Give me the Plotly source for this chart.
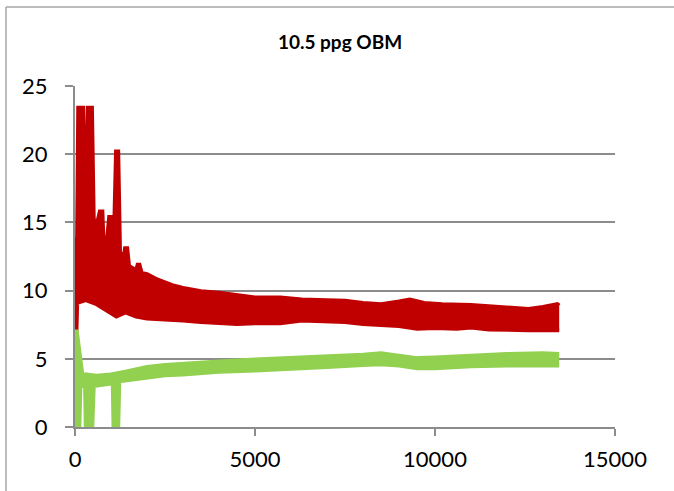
import plotly.graph_objects as go

# ---- data ----
red_upper_x = [0, 20, 60, 90, 230, 265, 325, 360, 470, 520, 620, 690, 760, 800, 900, 950, 1030, 1080,
               1140, 1200, 1250, 1360, 1390, 1450, 1500, 1700, 1740, 1790, 1850, 2000, 2300, 2700, 3000,
               3500, 4000, 4500, 5000, 5700, 6300, 7000, 7500, 8000, 8500, 9000, 9300, 9700, 10200, 11000,
               11500, 12000, 12600, 13000, 13400, 13450]
red_upper_y = [7.0, 12.0, 14.0, 23.4, 23.4, 18.5, 18.5, 23.4, 23.4, 15.2, 15.0, 15.8, 15.8, 13.0, 14.0, 15.4, 15.4, 13.5,
               20.2, 20.2, 12.8, 12.5, 13.1, 13.1, 11.8, 11.5, 11.9, 11.9, 11.3, 11.2, 10.8, 10.4, 10.2,
               9.95, 9.85, 9.65, 9.5, 9.5, 9.35, 9.3, 9.25, 9.1, 9.0, 9.2, 9.35, 9.1, 9.0, 8.95,
               8.85, 8.8, 8.65, 8.8, 9.0, 8.9]

red_lower_x = [0, 40, 60, 300, 600, 900, 1150, 1400, 1700, 2000, 2500, 3000, 3500, 4000, 4500, 5000, 5700,
               6300, 7000, 7500, 8000, 8500, 9000, 9500, 10000, 10600, 11000, 11500, 12000, 12600, 13000, 13450]
red_lower_y = [7.0, 7.0, 9.1, 9.3, 9.0, 8.5, 8.1, 8.4, 8.1, 7.95, 7.9, 7.8, 7.7, 7.65, 7.55, 7.6, 7.6,
               7.8, 7.7, 7.7, 7.55, 7.45, 7.4, 7.2, 7.25, 7.2, 7.3, 7.15, 7.1, 7.1, 7.1, 7.1]

green_upper_x = [0, 50, 220, 300, 600, 1000, 1400, 1700, 2000, 2500, 3000, 3500, 4000, 5000, 6000, 7000,
                 8000, 8500, 9000, 9500, 10000, 11000, 12000, 13000, 13450]
green_upper_y = [7.0, 7.0, 3.5, 3.85, 3.75, 3.85, 4.05, 4.25, 4.4, 4.55, 4.65, 4.75, 4.8, 4.95, 5.05, 5.15,
                 5.3, 5.4, 5.25, 5.05, 5.1, 5.25, 5.35, 5.4, 5.35]

green_lower_x = [0, 120, 150, 280, 300, 480, 520, 800, 1050, 1070, 1200, 1230, 1500, 2000, 2500, 3000, 4000,
                 5000, 6000, 7000, 8000, 8500, 9000, 9500, 10000, 11000, 12000, 13000, 13450]
green_lower_y = [0.0, 0.0, 3.0, 3.0, 0.0, 0.0, 3.0, 3.1, 3.2, 0.0, 0.0, 3.35, 3.45, 3.65, 3.8, 3.85, 4.05,
                 4.15, 4.25, 4.4, 4.55, 4.6, 4.5, 4.3, 4.3, 4.45, 4.5, 4.5, 4.5]

x_ticks = [0, 5000, 10000, 15000]
y_ticks = [0, 5, 10, 15, 20, 25]
title_text = "10.5 ppg OBM"

RED = "#C00000"
GREEN = "#92D050"
GRID = "#8C8C8C"
FONT = "Lato"

W, H = 674, 491

fig = go.Figure()
for lx, ly, ux, uy, col in [(red_lower_x, red_lower_y, red_upper_x, red_upper_y, RED),
                            (green_lower_x, green_lower_y, green_upper_x, green_upper_y, GREEN)]:
    fig.add_trace(go.Scatter(x=lx, y=ly, mode="lines",
                             line=dict(color=col, width=4), showlegend=False, hoverinfo="skip"))
    fig.add_trace(go.Scatter(x=ux, y=uy, mode="lines", fill="tonexty", fillcolor=col,
                             line=dict(color=col, width=4), showlegend=False, hoverinfo="skip"))

fig.update_layout(
    width=W, height=H,
    margin=dict(l=75, r=59, t=86, b=64, autoexpand=False),
    paper_bgcolor="white", plot_bgcolor="white",
    font=dict(family=FONT, color="black"),
    title=dict(text="<b>" + title_text + "</b>", x=340 / W, xanchor="center",
               y=1 - 42 / H, yanchor="middle", font=dict(family=FONT, size=19, color="black")),
    xaxis=dict(range=[0, 15000], tickvals=x_ticks, ticktext=[str(v) for v in x_ticks],
               showgrid=False, zeroline=False, showline=True, linecolor=GRID, linewidth=2,
               ticks="outside", ticklen=7, tickwidth=2, tickcolor=GRID, automargin=False,
               tickfont=dict(family=FONT, size=22, color="black"), ticklabelstandoff=5),
    yaxis=dict(range=[0, 25], tickvals=y_ticks, ticktext=[str(v) for v in y_ticks],
               showgrid=True, gridcolor=GRID, gridwidth=2, zeroline=False,
               showline=True, linecolor=GRID, linewidth=2, automargin=False,
               ticks="outside", ticklen=8, tickwidth=2, tickcolor=GRID,
               tickfont=dict(family=FONT, size=22, color="black"), ticklabelstandoff=13),
    shapes=[
        dict(type="line", xref="paper", yref="paper", x0=-69 / 540, x1=1.2, y0=1 + 79 / 341, y1=1 + 79 / 341,
             line=dict(color="#A6A6A6", width=1.5)),
        dict(type="line", xref="paper", yref="paper", x0=-69 / 540, x1=-69 / 540, y0=1 + 79 / 341, y1=-0.3,
             line=dict(color="#A6A6A6", width=1.5)),
    ],
)

fig.write_html("out.html", config={"displayModeBar": False},
               post_script="document.body.style.margin='0';document.body.style.overflow='hidden';")
